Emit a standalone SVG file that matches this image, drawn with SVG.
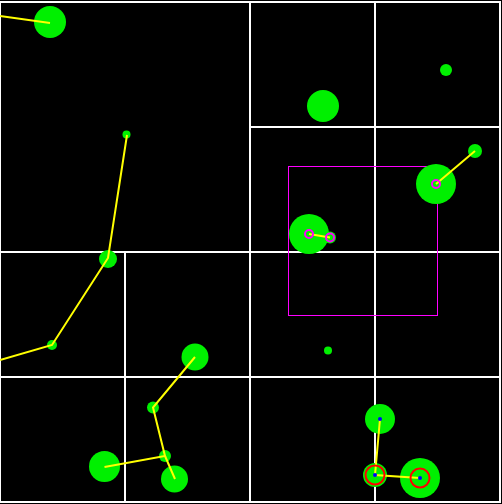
<svg xmlns="http://www.w3.org/2000/svg" width="502" height="504" viewBox="0 0 502 504">
<style>
.grid{stroke:#fff;stroke-width:2;fill:none}
.pt{fill:#00f000}
.edge{stroke:#ff0;stroke-width:2;fill:none}
.ring{fill:none;stroke:#f0f;stroke-width:2}
.red{fill:none;stroke:#f00;stroke-width:2}
.blue{fill:#00f}
</style>
<rect width="502" height="504" fill="#000"/>
<g id="grid" class="grid">
<rect x="0" y="2" width="500" height="500"/>
<line x1="250" y1="2" x2="250" y2="502"/>
<line x1="0" y1="252" x2="500" y2="252"/>
<line x1="375" y1="2" x2="375" y2="502"/>
<line x1="250" y1="127" x2="500" y2="127"/>
<line x1="125" y1="252" x2="125" y2="502"/>
<line x1="0" y1="377" x2="500" y2="377"/>
</g>
<rect id="query" x="288.5" y="166.5" width="149" height="149" fill="none" stroke="#f0f" stroke-width="1"/>
<g id="n1"><circle class="pt" cx="50" cy="22" r="16"/></g>
<g id="n2"><circle class="pt" cx="126.5" cy="134.5" r="4"/></g>
<g id="n3"><circle class="pt" cx="108" cy="259" r="9"/></g>
<g id="n4"><circle class="pt" cx="52" cy="345" r="5"/></g>
<g id="n5"><circle class="pt" cx="195" cy="357" r="13.5"/></g>
<g id="n6"><circle class="pt" cx="153" cy="407.5" r="6"/></g>
<g id="n7"><circle class="pt" cx="165" cy="456" r="6"/></g>
<g id="n8"><circle class="pt" cx="104.5" cy="466.5" r="15.5"/></g>
<g id="n9"><circle class="pt" cx="174.5" cy="479" r="13.5"/></g>
<g id="n10"><circle class="pt" cx="323" cy="106" r="16"/></g>
<g id="n11"><circle class="pt" cx="446" cy="70" r="6"/></g>
<g id="n12"><circle class="pt" cx="436" cy="184" r="20"/></g>
<g id="n13"><circle class="pt" cx="475" cy="151" r="7"/></g>
<g id="n14"><circle class="pt" cx="309" cy="234" r="20"/></g>
<g id="n15"><circle class="pt" cx="330" cy="237.5" r="6"/></g>
<g id="n16"><circle class="pt" cx="328" cy="350.5" r="4"/></g>
<g id="n17"><circle class="pt" cx="380" cy="419" r="15"/></g>
<g id="n18"><circle class="pt" cx="375" cy="475" r="12"/></g>
<g id="n19"><circle class="pt" cx="420" cy="478" r="20"/></g>
<g id="connectors">
<line class="edge" x1="0" y1="16" x2="50" y2="23"/>
<polyline class="edge" points="127,135 108,258 52,345 0,360"/>
<polyline class="edge" points="195,357 153,407.5 165,456 104.5,467"/>
<line class="edge" x1="165" y1="456" x2="175" y2="479"/>
<line class="edge" x1="475" y1="151" x2="436" y2="184"/>
<line class="edge" x1="309" y1="234" x2="330" y2="237.5"/>
<polyline class="edge" points="380,419 375,475 420,478"/>
</g>
<g id="marks">
<circle class="ring" cx="436" cy="184" r="4"/>
<circle class="ring" cx="309" cy="234" r="4"/>
<circle class="ring" cx="330" cy="237.5" r="4"/>
<circle class="red" cx="375" cy="475" r="9.5"/>
<circle class="red" cx="420" cy="478" r="9.5"/>
<circle class="blue" cx="380" cy="419" r="2"/>
<circle class="blue" cx="375" cy="475" r="2"/>
<circle class="blue" cx="420" cy="478" r="2"/>
</g>
</svg>
